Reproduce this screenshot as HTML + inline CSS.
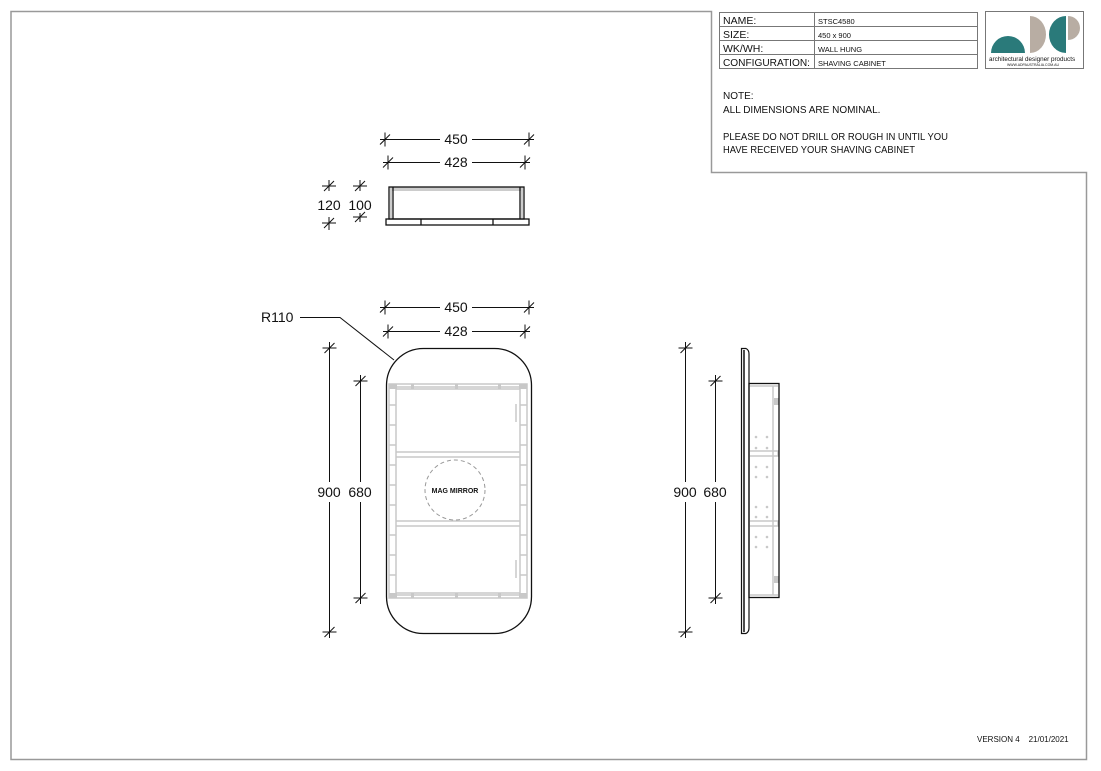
<!DOCTYPE html>
<html><head><meta charset="utf-8"><style>
html,body{margin:0;padding:0;background:#fff;width:1101px;height:771px;overflow:hidden}
svg{display:block}
text{font-family:"Liberation Sans",sans-serif;fill:#111}
</style></head><body>
<svg width="1101" height="771" viewBox="0 0 1101 771" xmlns="http://www.w3.org/2000/svg">
<defs>
<g id="tk"><line x1="-5" y1="5" x2="5" y2="-5" stroke="#111" stroke-width="1"/><line x1="0" y1="-7" x2="0" y2="7" stroke="#111" stroke-width="1"/></g>
<g id="tkv"><line x1="-5" y1="5" x2="5" y2="-5" stroke="#111" stroke-width="1"/><line x1="-7" y1="0" x2="7" y2="0" stroke="#111" stroke-width="1"/></g>
</defs>
<polyline points="11,759 11,11.5 711.5,11.5 711.5,172.5 1086.5,172.5 1086.5,759.5 11,759.5 11,759" fill="none" stroke="#999" stroke-width="1.5"/>
<g stroke="#777" stroke-width="1" fill="none">
<rect x="719.5" y="12.5" width="258" height="56"/>
<line x1="719" y1="26.5" x2="977" y2="26.5"/><line x1="719" y1="40.5" x2="977" y2="40.5"/><line x1="719" y1="54.5" x2="977" y2="54.5"/>
<line x1="814.5" y1="12" x2="814.5" y2="68"/>
<rect x="985.5" y="11.5" width="98" height="57"/>
</g>
<g font-size="10.5"><text x="723" y="24">NAME:</text><text x="723" y="38">SIZE:</text><text x="723" y="52">WK/WH:</text><text x="723" y="66" textLength="87" lengthAdjust="spacingAndGlyphs">CONFIGURATION:</text></g>
<g font-size="7.5"><text x="818" y="24">STSC4580</text><text x="818" y="38">450 x 900</text><text x="818" y="52">WALL HUNG</text><text x="818" y="66">SHAVING CABINET</text></g>
<path d="M991,53 A17,17 0 0 1 1025,53 Z" fill="#2a7a7a"/>
<path d="M1030,16 A16,18.5 0 0 1 1030,53 Z" fill="#b8ada3"/>
<path d="M1066,16 L1066,53 A17,18.5 0 0 1 1066,16 Z" fill="#2a7a7a"/>
<path d="M1068,16 A12,12 0 0 1 1068,40 Z" fill="#b8ada3"/>
<text x="989" y="61" font-size="6.3" fill="#555">architectural designer products</text>
<text x="1007" y="66" font-size="3.5" fill="#555">WWW.ADPAUSTRALIA.COM.AU</text>
<g font-size="10"><text x="723" y="99">NOTE:</text><text x="723" y="113">ALL DIMENSIONS ARE NOMINAL.</text><text x="723" y="140" textLength="225" lengthAdjust="spacingAndGlyphs">PLEASE DO NOT DRILL OR ROUGH IN UNTIL YOU</text><text x="723" y="153" textLength="192" lengthAdjust="spacingAndGlyphs">HAVE RECEIVED YOUR SHAVING CABINET</text></g>
<text x="977" y="742" font-size="8" fill="#888" xml:space="preserve">VERSION 4    21/01/2021</text>

<g stroke="#111" stroke-width="1">
<line x1="380" y1="139.5" x2="440" y2="139.5"/><line x1="472" y1="139.5" x2="534" y2="139.5"/>
<line x1="383" y1="162.5" x2="440" y2="162.5"/><line x1="472" y1="162.5" x2="530" y2="162.5"/>
<line x1="380" y1="307.5" x2="440" y2="307.5"/><line x1="472" y1="307.5" x2="534" y2="307.5"/>
<line x1="383" y1="331.5" x2="440" y2="331.5"/><line x1="472" y1="331.5" x2="530" y2="331.5"/>
</g>
<use href="#tk" x="385" y="139.5"/><use href="#tk" x="529" y="139.5"/>
<use href="#tk" x="388" y="162.5"/><use href="#tk" x="525" y="162.5"/>
<use href="#tk" x="385" y="307.5"/><use href="#tk" x="529" y="307.5"/>
<use href="#tk" x="388" y="331.5"/><use href="#tk" x="525" y="331.5"/>
<g font-size="14" text-anchor="middle"><text x="456" y="144">450</text><text x="456" y="167">428</text><text x="456" y="312">450</text><text x="456" y="336">428</text></g>

<g font-size="14" text-anchor="middle"><text x="329" y="210">120</text><text x="360" y="210">100</text></g>
<use href="#tkv" x="329" y="186"/><use href="#tkv" x="329" y="223"/><use href="#tkv" x="360" y="186"/><use href="#tkv" x="360" y="217"/>
<line x1="329" y1="180" x2="329" y2="191" stroke="#111"/><line x1="329" y1="217" x2="329" y2="230" stroke="#111"/>
<line x1="360" y1="180" x2="360" y2="191" stroke="#111"/><line x1="360" y1="213" x2="360" y2="222" stroke="#111"/>
<rect x="390" y="187" width="133" height="4" fill="#ccc"/>
<rect x="390" y="191" width="2" height="27" fill="#ccc"/><rect x="521" y="191" width="2" height="27" fill="#ccc"/>
<g fill="none" stroke="#111" stroke-width="1.3">
<rect x="389" y="187" width="135" height="32"/>
<line x1="393" y1="187" x2="393" y2="219"/><line x1="520" y1="187" x2="520" y2="219"/>
<rect x="386" y="219" width="143" height="6"/>
<line x1="421" y1="219" x2="421" y2="225"/><line x1="493" y1="219" x2="493" y2="225"/>
</g>

<polyline points="300,317.5 340,317.5 394,360" fill="none" stroke="#111" stroke-width="1"/>
<text x="261" y="322" font-size="14">R110</text>

<g stroke="#111" stroke-width="1">
<line x1="329.5" y1="342" x2="329.5" y2="482"/><line x1="329.5" y1="502" x2="329.5" y2="638"/>
<line x1="360.5" y1="375" x2="360.5" y2="482"/><line x1="360.5" y1="502" x2="360.5" y2="604"/>
<line x1="685.5" y1="342" x2="685.5" y2="482"/><line x1="685.5" y1="502" x2="685.5" y2="638"/>
<line x1="715.5" y1="375" x2="715.5" y2="482"/><line x1="715.5" y1="502" x2="715.5" y2="604"/>
</g>
<use href="#tkv" x="329.5" y="348"/><use href="#tkv" x="329.5" y="632"/><use href="#tkv" x="360.5" y="381"/><use href="#tkv" x="360.5" y="598"/>
<use href="#tkv" x="685.5" y="348"/><use href="#tkv" x="685.5" y="632"/><use href="#tkv" x="715.5" y="381"/><use href="#tkv" x="715.5" y="598"/>
<g font-size="14" text-anchor="middle"><text x="329" y="497">900</text><text x="360" y="497">680</text><text x="685" y="497">900</text><text x="715" y="497">680</text></g>

<g fill="none" stroke="#c8c8c8" stroke-width="1.5">
<rect x="389" y="384" width="138" height="214"/>
<rect x="396" y="389" width="124" height="204"/>
<line x1="389" y1="387" x2="527" y2="387"/>
<line x1="389" y1="595" x2="527" y2="595"/>
<line x1="396" y1="452" x2="520" y2="452"/><line x1="396" y1="457" x2="520" y2="457"/>
<line x1="396" y1="521" x2="520" y2="521"/><line x1="396" y1="526" x2="520" y2="526"/>
<line x1="516" y1="404" x2="516" y2="422"/><line x1="516" y1="560" x2="516" y2="578"/>
</g>
<g fill="#c8c8c8">
<rect x="389" y="384" width="8" height="5"/><rect x="519" y="384" width="8" height="5"/>
<rect x="389" y="593" width="8" height="5"/><rect x="519" y="593" width="8" height="5"/>
<rect x="411" y="384" width="3" height="5"/><rect x="455" y="384" width="3" height="5"/><rect x="498" y="384" width="3" height="5"/>
<rect x="411" y="593" width="3" height="5"/><rect x="455" y="593" width="3" height="5"/><rect x="498" y="593" width="3" height="5"/>
</g>
<g stroke="#c8c8c8" stroke-width="1.5">
<line x1="389" y1="405" x2="396" y2="405"/><line x1="389" y1="425" x2="396" y2="425"/><line x1="389" y1="445" x2="396" y2="445"/><line x1="389" y1="465" x2="396" y2="465"/><line x1="389" y1="485" x2="396" y2="485"/><line x1="389" y1="505" x2="396" y2="505"/><line x1="389" y1="535" x2="396" y2="535"/><line x1="389" y1="555" x2="396" y2="555"/><line x1="389" y1="575" x2="396" y2="575"/>
<line x1="520" y1="405" x2="527" y2="405"/><line x1="520" y1="425" x2="527" y2="425"/><line x1="520" y1="445" x2="527" y2="445"/><line x1="520" y1="465" x2="527" y2="465"/><line x1="520" y1="485" x2="527" y2="485"/><line x1="520" y1="505" x2="527" y2="505"/><line x1="520" y1="535" x2="527" y2="535"/><line x1="520" y1="555" x2="527" y2="555"/><line x1="520" y1="575" x2="527" y2="575"/>
</g>
<circle cx="455" cy="490" r="30" fill="none" stroke="#999" stroke-width="1" stroke-dasharray="4,3"/>
<text x="455" y="493" font-size="7" text-anchor="middle" font-weight="bold">MAG MIRROR</text>
<rect x="386.5" y="348.5" width="145" height="285" rx="37" ry="37" fill="none" stroke="#111" stroke-width="1.3"/>

<path d="M741.5,348.5 L746,348.5 Q749,350 749,354 L749,628 Q749,632 746,633.5 L741.5,633.5 Z" fill="none" stroke="#111" stroke-width="1.2"/>
<line x1="744" y1="350" x2="744" y2="632" stroke="#111" stroke-width="1.5"/>
<g fill="none" stroke="#c8c8c8" stroke-width="1.5">
<line x1="773" y1="386" x2="773" y2="595"/>
<rect x="749" y="451" width="29" height="5"/><rect x="749" y="521" width="29" height="5"/>
<line x1="749" y1="386" x2="778" y2="386"/><line x1="749" y1="595" x2="778" y2="595"/>
</g>
<g fill="#c8c8c8">
<rect x="774" y="398" width="5" height="7"/><rect x="774" y="576" width="5" height="7"/>
<circle cx="756" cy="437" r="1.3"/><circle cx="767" cy="437" r="1.3"/><circle cx="756" cy="448" r="1.3"/><circle cx="767" cy="448" r="1.3"/>
<circle cx="756" cy="467" r="1.3"/><circle cx="767" cy="467" r="1.3"/><circle cx="756" cy="477" r="1.3"/><circle cx="767" cy="477" r="1.3"/>
<circle cx="756" cy="507" r="1.3"/><circle cx="767" cy="507" r="1.3"/><circle cx="756" cy="517" r="1.3"/><circle cx="767" cy="517" r="1.3"/>
<circle cx="756" cy="537" r="1.3"/><circle cx="767" cy="537" r="1.3"/><circle cx="756" cy="547" r="1.3"/><circle cx="767" cy="547" r="1.3"/>
</g>
<rect x="749" y="383.5" width="30" height="214" fill="none" stroke="#111" stroke-width="1.3"/>
</svg>
</body></html>
